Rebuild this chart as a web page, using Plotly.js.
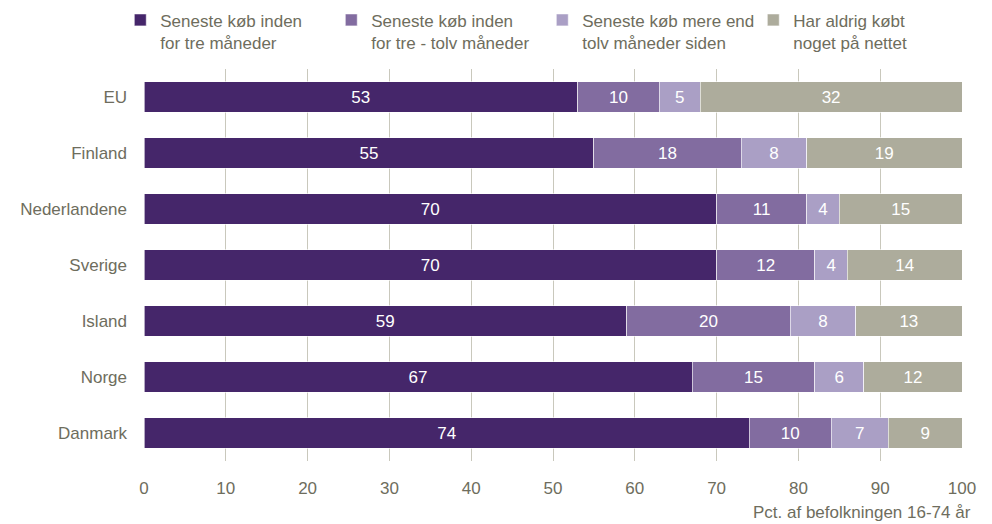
<!DOCTYPE html>
<html>
<head>
<meta charset="utf-8">
<script src="https://cdn.plot.ly/plotly-3.0.1.min.js"></script>
<style>html,body{margin:0;padding:0;background:#fff;}#chart{width:992px;height:524px;}</style>
</head>
<body>
<div id="chart"></div>
<script>
const countries = ["EU", "Finland", "Nederlandene", "Sverige", "Island", "Norge", "Danmark"];
const seriesNames = [
  "Seneste køb inden<br>for tre måneder",
  "Seneste køb inden<br>for tre - tolv måneder",
  "Seneste køb mere end<br>tolv måneder siden",
  "Har aldrig købt<br>noget på nettet"
];
const within3 = [53, 55, 70, 70, 59, 67, 74];
const within3to12 = [10, 18, 11, 12, 20, 15, 10];
const over12 = [5, 8, 4, 4, 8, 6, 7];
const never = [32, 19, 15, 14, 13, 12, 9];
const xTicks = [0, 10, 20, 30, 40, 50, 60, 70, 80, 90, 100];
const axisTitle = "Pct. af befolkningen 16-74 år";

const colors = ["#45266a", "#826ca0", "#aa9fc5", "#adac9c"];
const FONT = "Liberation Sans, Arial, sans-serif";
const TXT = "#6e6d5d";

const values = [within3, within3to12, over12, never];
const traces = values.map((v, i) => ({
  type: "bar",
  orientation: "h",
  name: seriesNames[i],
  y: countries,
  x: v,
  text: v.map(String),
  textposition: "inside",
  insidetextanchor: "middle",
  textangle: 0,
  constraintext: "none",
  textfont: {family: FONT, size: 17, color: "#ffffff"},
  marker: {color: colors[i], line: {color: "#ffffff", width: 0.6}},
  hoverinfo: "x+y"
}));

const layout = {
  width: 992, height: 524,
  margin: {l: 144, r: 30, t: 69, b: 63, autoexpand: false},
  barmode: "stack",
  bargap: 0.46,
  paper_bgcolor: "#ffffff",
  plot_bgcolor: "#ffffff",
  font: {family: FONT, size: 17, color: TXT},
  showlegend: true,
  legend: {
    orientation: "h",
    x: -0.029, xanchor: "left",
    y: 1.17, yanchor: "top",
    valign: "top",
    traceorder: "normal",
    entrywidth: 166, entrywidthmode: "pixels",
    itemwidth: 30,
    font: {family: FONT, size: 17, color: TXT},
    bgcolor: "rgba(0,0,0,0)"
  },
  xaxis: {
    range: [0, 100],
    tickvals: xTicks,
    ticktext: xTicks.map(String),
    showgrid: true,
    gridcolor: "#c9c8bc",
    gridwidth: 1,
    zeroline: false,
    showline: false,
    ticks: "",
    ticklabelstandoff: 15,
    tickfont: {family: FONT, size: 17, color: TXT},
    fixedrange: true
  },
  yaxis: {
    autorange: "reversed",
    showgrid: false,
    zeroline: false,
    showline: false,
    ticks: "",
    ticklabelstandoff: 16,
    tickfont: {family: FONT, size: 17, color: TXT},
    fixedrange: true
  },
  annotations: [{
    text: axisTitle,
    xref: "paper", yref: "paper",
    x: 1, y: 0, xanchor: "right", yanchor: "top",
    yshift: -40, xshift: 11,
    showarrow: false,
    font: {family: FONT, size: 17, color: TXT}
  }]
};

Plotly.newPlot("chart", traces, layout, {displayModeBar: false, staticPlot: true});
</script>
</body>
</html>
